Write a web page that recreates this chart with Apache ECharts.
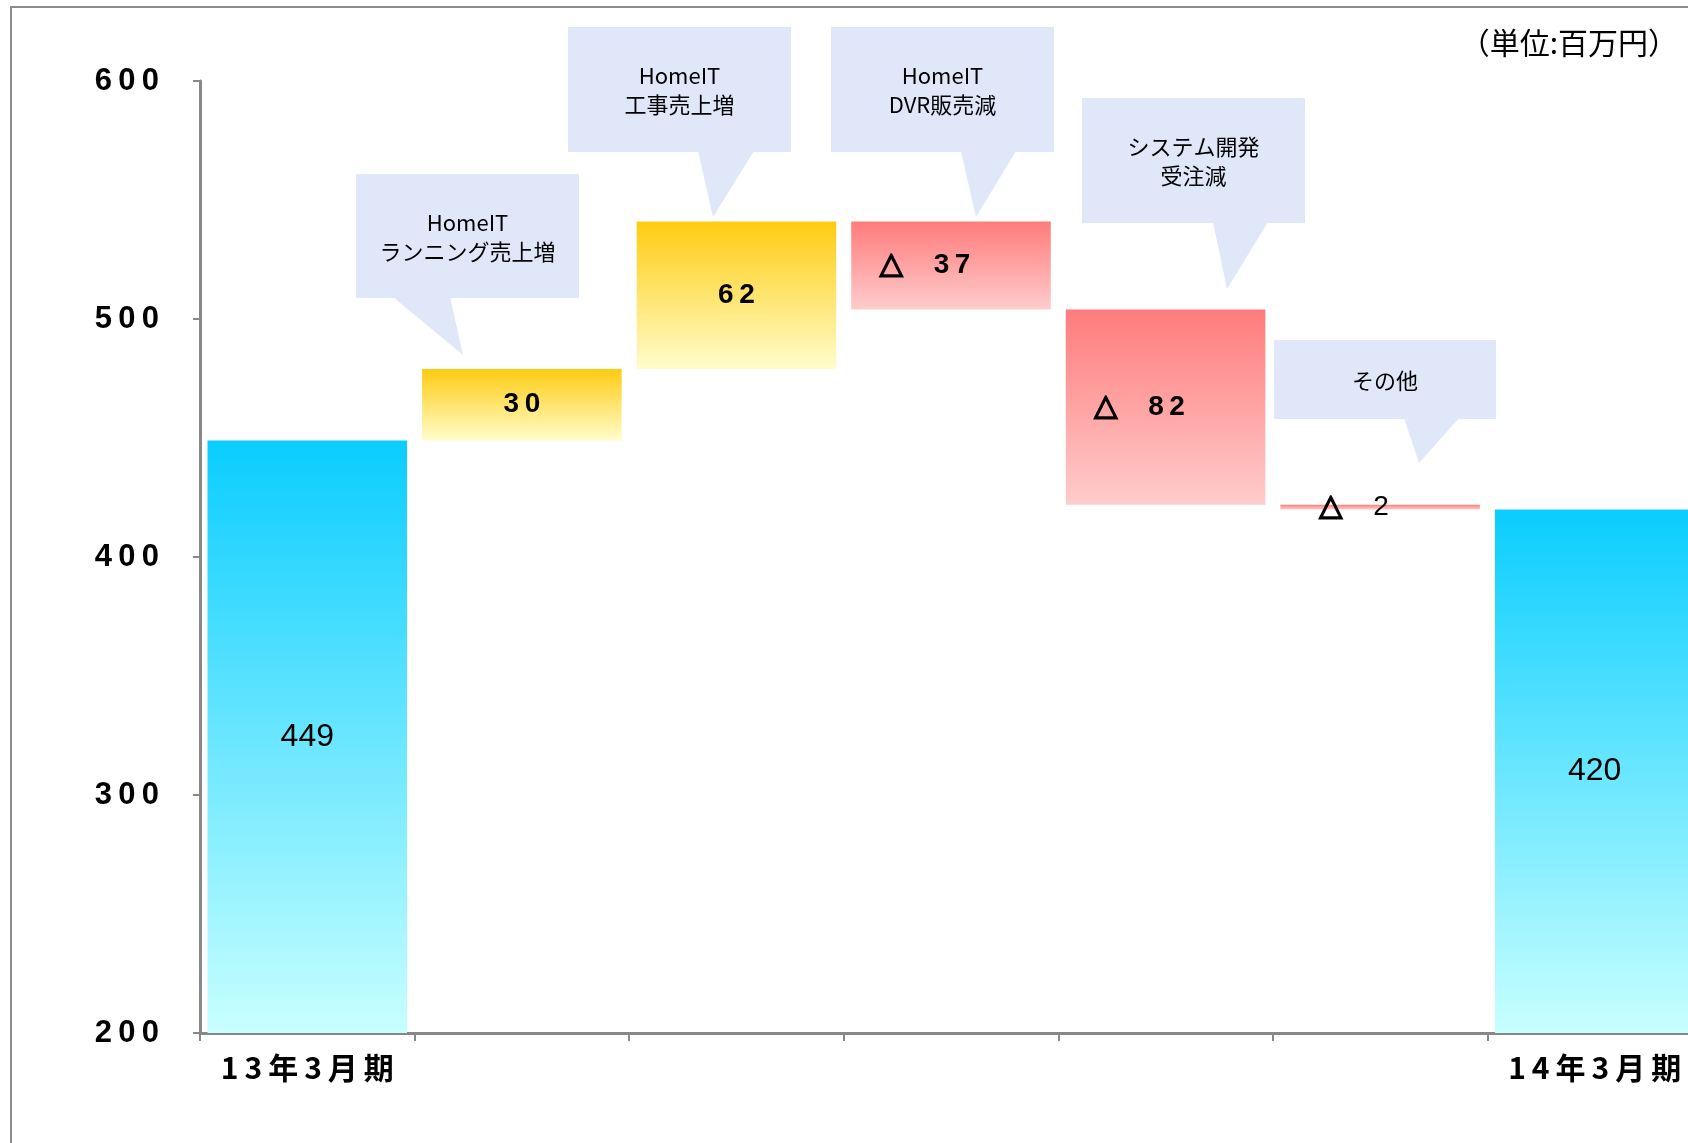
<!DOCTYPE html>
<html lang="ja">
<head>
<meta charset="UTF-8">
<title>売上増減要因</title>
<style>
  html, body { margin: 0; padding: 0; background: #fff; }
  #main { width: 1688px; height: 1143px; }
</style>
</head>
<body>
<div id="main"></div>
<script src="https://cdn.jsdelivr.net/npm/echarts@6/dist/echarts.min.js"></script>
<script>
  // 区分と増減
  const categories = ['13年3月期', 'HomeIT\nランニング売上増', 'HomeIT\n工事売上増', 'HomeIT\nDVR販売減', 'システム開発\n受注減', 'その他', '14年3月期'];
  const kinds = ['total', 'up', 'up', 'down', 'down', 'down', 'total'];
  const amounts = [449, 30, 62, 37, 82, 2, 420];
  const yTicks = [200, 300, 400, 500, 600];
  const unitText = '（単位:百万円）';

  // 吹き出しの配置 [category, box x, y, w, h, tail left, tail right, tip x, tip y]
  const callouts = [
    [1, 356, 174, 223, 124, 393, 450, 463, 355],
    [2, 568, 27, 223, 125, 698, 754, 713, 217],
    [3, 831, 27, 223, 125, 961, 1016, 976, 217],
    [4, 1082, 98, 223, 125, 1213, 1268, 1227, 289],
    [5, 1274, 340, 222, 79, 1404, 1459, 1419, 463]
  ];

  // waterfall の土台
  const base = [];
  let run = 0;
  amounts.forEach((v, i) => {
    if (kinds[i] === 'total') { base.push(0); run = v; }
    else if (kinds[i] === 'up') { base.push(run); run += v; }
    else { run -= v; base.push(run); }
  });

  const grad = (c) => new echarts.graphic.LinearGradient(0, 0, 0, 1, [
    { offset: 0, color: c[0] }, { offset: 1, color: c[1] }
  ]);
  const fills = {
    total: ['#0ACDFF', '#C8FFFF'],
    up: ['#FFCB11', '#FFFDCC'],
    down: ['#FF7B7B', '#FFCCCC']
  };
  const spaced = s => String(s).split('').join('\u2009');

  const deltaData = amounts.map((v, i) => {
    let fmt, offset = [0, 0];
    if (kinds[i] === 'total') fmt = '{r|' + v + '}';
    else if (kinds[i] === 'up') fmt = '{b|' + spaced(v) + '}';
    else {
      fmt = '{t|△}' + (v < 10 ? '{r2|' + v + '}' : '{b|' + spaced(v) + '}');
      offset = [-26, 0];
    }
    return {
      value: v,
      itemStyle: { color: grad(fills[kinds[i]]) },
      label: { formatter: fmt, offset: offset }
    };
  });

  const axisGray = '#888888';
  const chart = echarts.init(document.getElementById('main'));

  const graphics = [{
    type: 'rect',
    shape: { x: 11, y: 7, width: 2000, height: 2000 },
    style: { fill: 'none', stroke: '#8c8c8c', lineWidth: 2 },
    z: 0
  }, {
    type: 'text',
    style: {
      text: unitText, x: 1678, y: 43, align: 'right', verticalAlign: 'middle',
      fontSize: 30, fontFamily: 'Noto Sans CJK JP', fill: '#000'
    },
    z: 10
  }];

  callouts.forEach(c => {
    const [idx, x, y, w, h, tl, tr, tx, ty] = c;
    graphics.push({
      type: 'polygon',
      shape: { points: [[tl, y + h - 1], [tr, y + h - 1], [tx, ty]] },
      style: { fill: '#DFE7F9' },
      z: 10
    }, {
      type: 'rect',
      shape: { x: x, y: y, width: w, height: h },
      style: { fill: '#DFE7F9' },
      z: 10
    }, {
      type: 'text',
      style: {
        text: categories[idx], x: x + w / 2, y: y + h / 2 + 1,
        align: 'center', verticalAlign: 'middle',
        fontSize: 22, lineHeight: 29, fontFamily: 'Noto Sans CJK JP', fill: '#000'
      },
      z: 11
    });
  });

  const option = {
    animation: false,
    backgroundColor: '#fff',
    grid: { left: 200, top: 81, width: 1502, bottom: 110, outerBoundsMode: 'none' },
    xAxis: {
      type: 'category',
      data: categories,
      axisLine: { lineStyle: { color: axisGray, width: 3 } },
      axisTick: { show: true, interval: 0, length: 8, lineStyle: { color: axisGray, width: 2 } },
      axisLabel: {
        interval: 0, margin: 20, color: '#000',
        fontSize: 30, fontWeight: 'bold', fontFamily: 'Noto Sans CJK JP',
        formatter: (v, i) => kinds[i] === 'total' ? v.split('').join('\u2009') : ''
      },
      splitLine: { show: false }
    },
    yAxis: {
      type: 'value',
      min: yTicks[0],
      max: yTicks[yTicks.length - 1],
      interval: 100,
      axisLine: { show: true, lineStyle: { color: axisGray, width: 3 } },
      axisTick: { show: true, length: 7, lineStyle: { color: axisGray, width: 2 } },
      axisLabel: {
        margin: 41, color: '#000', fontSize: 31, fontWeight: 'bold',
        fontFamily: 'Liberation Sans', formatter: v => spaced(v)
      },
      splitLine: { show: false }
    },
    series: [{
      type: 'bar',
      stack: 'w',
      silent: true,
      barCategoryGap: '7%',
      itemStyle: { color: 'transparent' },
      data: base
    }, {
      type: 'bar',
      stack: 'w',
      barCategoryGap: '7%',
      data: deltaData,
      label: {
        show: true,
        position: 'inside',
        color: '#000',
        rich: {
          r: { fontSize: 32, fontFamily: 'Liberation Sans', color: '#000' },
          r2: { fontSize: 28, fontFamily: 'Liberation Sans', color: '#000' },
          b: { fontSize: 28, fontWeight: 'bold', fontFamily: 'Liberation Sans', color: '#000' },
          t: {
            fontSize: 30, fontWeight: 'bold', fontFamily: 'DejaVu Sans', color: '#000',
            textBorderColor: '#000', textBorderWidth: 1.6, width: 54, align: 'left'
          }
        }
      }
    }],
    graphic: graphics
  };
  chart.setOption(option);
</script>
</body>
</html>
